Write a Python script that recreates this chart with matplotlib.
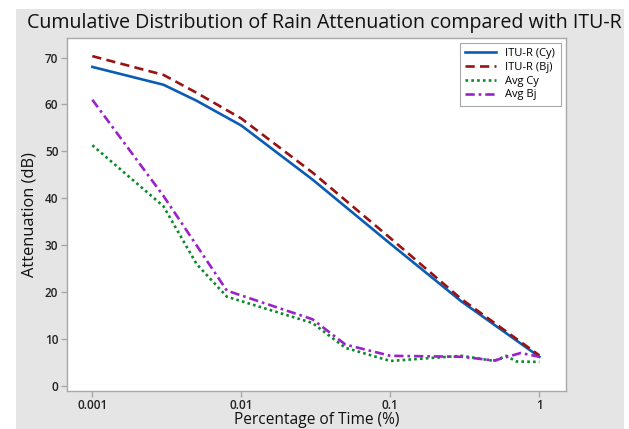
import matplotlib.pyplot as plt
from matplotlib.patches import Rectangle

# ITU-R predictions
x_itu = [0.001, 0.003, 0.005, 0.01, 0.03, 0.1, 0.3, 1]
itu_cy = [68.0, 64.2, 60.8, 55.5, 44.0, 30.3, 18.0, 6.2]
itu_bj = [70.3, 66.3, 62.5, 57.0, 45.5, 31.5, 18.5, 6.5]

# measured averages
x_avg_cy = [0.001, 0.003, 0.005, 0.008, 0.03, 0.05, 0.1, 0.2, 0.3, 0.5, 0.6, 0.7, 1]
avg_cy = [51.3, 38.3, 26.0, 19.0, 13.4, 8.1, 5.3, 6.0, 6.4, 5.3, 6.4, 5.2, 5.1]

x_avg_bj = [0.001, 0.003, 0.008, 0.03, 0.05, 0.1, 0.3, 0.5, 0.75, 1]
avg_bj = [61.0, 40.5, 20.3, 14.2, 8.8, 6.4, 6.2, 5.4, 7.0, 6.2]

x_ticks = [0.001, 0.01, 0.1, 1]
x_ticklabels = ['0.001', '0.01', '0.1', '1']
y_ticks = [0, 10, 20, 30, 40, 50, 60, 70]

plt.rcParams['font.family'] = ['Open Sans', 'DejaVu Sans']

W, H = 629, 429
fig = plt.figure(figsize=(W / 100, H / 100), dpi=100, facecolor='white')
fig.patches.append(Rectangle((16 / W, 0), (624 - 16) / W, 1 - 9 / H,
                             transform=fig.transFigure, facecolor='#e5e5e5',
                             edgecolor='none', zorder=-10))

ax = fig.add_axes([66.7 / W, 1 - 391 / H, (566 - 66.7) / W, (391 - 38.3) / H])
ax.set_zorder(1)
ax.set_facecolor('white')

lw = 1.9
ax.plot(x_itu, itu_cy, color='#0a5cb4', linestyle='-', linewidth=lw, label='ITU-R (Cy)')
ax.plot(x_itu, itu_bj, color='#9a1212', linestyle=(0, (3.5, 2.0)), linewidth=lw, label='ITU-R (Bj)')
ax.plot(x_avg_cy, avg_cy, color='#0b8a2c', linestyle=(0, (1, 1.2)), linewidth=lw, label='Avg Cy')
ax.plot(x_avg_bj, avg_bj, color='#9a22c8', linestyle=(0, (3.5, 1.5, 1, 1.5)), linewidth=lw, label='Avg Bj')

ax.set_xscale('log')
ax.set_xlim(10 ** -3.172, 10 ** 0.179)
ax.set_ylim(-1.1, 74.1)
ax.set_xticks(x_ticks)
ax.set_xticklabels(x_ticklabels)
ax.minorticks_off()
ax.set_yticks(y_ticks)

for s in ax.spines.values():
    s.set_color('#a8a8a8')
    s.set_linewidth(1.0)
ax.tick_params(direction='out', length=4, width=1, color='#a8a8a8',
               labelsize=8.5, labelcolor='#222222', pad=2)
ax.tick_params(axis='x', pad=1.5)
for lab in ax.get_xticklabels() + ax.get_yticklabels():
    lab.set_fontweight('semibold')

ax.set_xlabel('Percentage of Time (%)', fontsize=11.2, labelpad=0.5, color='#111111')
ax.set_ylabel('Attenuation (dB)', fontsize=11.8, labelpad=5, color='#111111')

fig.text(324 / W, 1 - 28 / H, 'Cumulative Distribution of Rain Attenuation compared with ITU-R',
         ha='center', va='baseline', fontsize=14.1, color='#111111')

leg = ax.legend(loc='upper right', bbox_to_anchor=(0.989, 0.988), borderaxespad=0,
                fontsize=8, handlelength=2.8, labelspacing=0.25, fancybox=False,
                framealpha=1, edgecolor='#a8a8a8', borderpad=0.5)
leg.get_frame().set_linewidth(0.8)

fig.savefig('out.png', dpi=100, facecolor='white')
